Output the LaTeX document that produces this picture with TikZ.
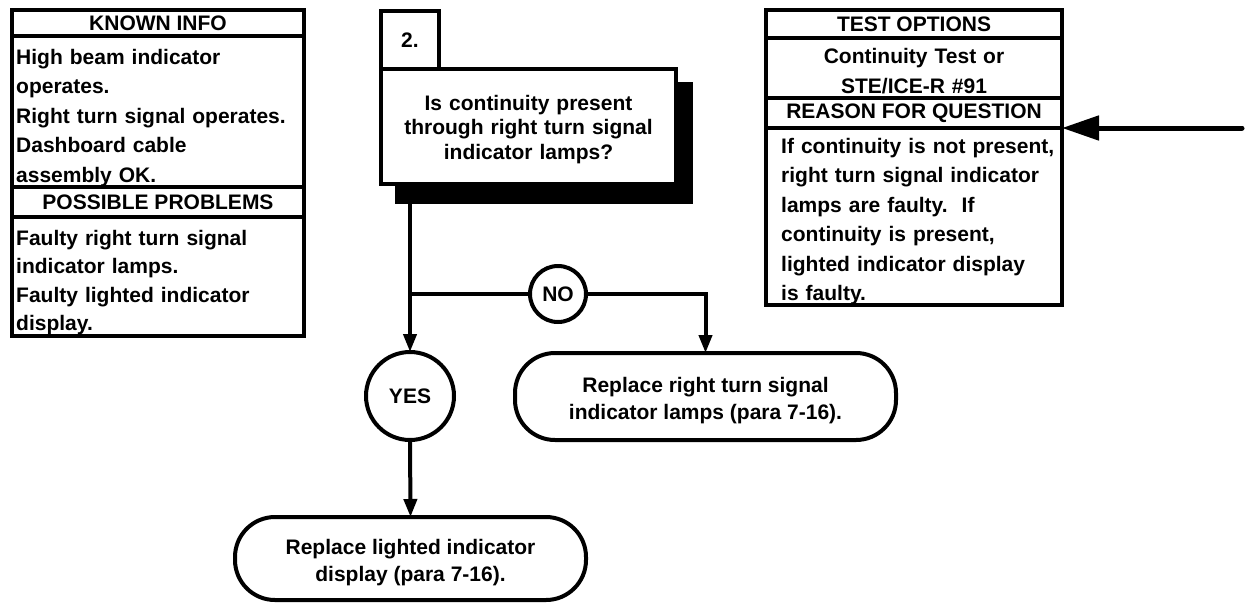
\documentclass[tikz,border=0pt]{standalone}
\usepackage{fontspec}
\setmainfont{Liberation Sans}
\usetikzlibrary{arrows.meta}
\begin{document}
\begin{tikzpicture}[x=1pt,y=-1pt,
  frame/.style={draw, line width=4pt, anchor=north west, inner sep=0pt, outer sep=0pt},
  hdr/.style={frame, font=\fontsize{21}{25}\selectfont\bfseries},
  txt/.style={inner sep=0pt, font=\fontsize{21}{29.5}\selectfont\bfseries},
  termbox/.style={draw, line width=4pt, rounded corners=40pt, inner sep=0pt, outer sep=0pt, align=center, font=\fontsize{21}{27}\selectfont\bfseries},
  decision/.style={circle, draw, line width=4pt, inner sep=0pt, outer sep=0pt, font=\fontsize{21}{25}\selectfont\bfseries},
  conn/.style={line width=4pt, -{Triangle[length=18pt,width=13pt]}},
  plainline/.style={line width=4pt}
]
\useasboundingbox (0,0) rectangle (1249,603);

% ---- left box ----
\node[hdr, minimum width=292pt, minimum height=26pt] (known) at (12,10) {KNOWN INFO};
\node[frame, minimum width=292pt, minimum height=151pt] (knownbody) at (12,36) {};
\node[hdr, minimum width=292pt, minimum height=30pt] (poss) at (12,187) {POSSIBLE PROBLEMS};
\node[frame, minimum width=292pt, minimum height=119pt] (possbody) at (12,217) {};
\node[txt, anchor=base west, text width=285pt, align=left] (knowntxt) at (16,64)
  {High beam indicator\\operates.\\Right turn signal operates.\\Dashboard cable\\assembly OK.};
\node[txt, font=\fontsize{21}{28.5}\selectfont\bfseries, anchor=base west, text width=285pt, align=left] (posstxt) at (16,245)
  {Faulty right turn signal\\indicator lamps.\\Faulty lighted indicator\\display.};

% ---- step box ----
\fill (395,82) rectangle (693,204);
\node[frame, fill=white, minimum width=58pt, minimum height=58pt, font=\fontsize{21}{25}\selectfont\bfseries] (num) at (381,11) {2.};
\node[frame, fill=white, minimum width=295pt, minimum height=115pt] (q) at (381,69) {};
\node[txt, font=\fontsize{21}{24.5}\selectfont\bfseries, anchor=base, text width=290pt, align=center] (qtxt) at (528.5,110)
  {Is continuity present\\through right turn signal\\indicator lamps?};

% ---- right box ----
\node[hdr, minimum width=296pt, minimum height=28pt] (testopt) at (766,10) {TEST OPTIONS};
\node[frame, minimum width=296pt, minimum height=60pt] (testbody) at (766,38) {};
\node[hdr, minimum width=296pt, minimum height=30pt] (reason) at (766,98) {REASON FOR QUESTION};
\node[frame, minimum width=296pt, minimum height=177pt] (reasonbody) at (766,128) {};
\node[txt, font=\fontsize{21}{30}\selectfont\bfseries, anchor=base, text width=290pt, align=center] (testtxt) at (914,63)
  {Continuity Test or\\STE/ICE-R \#91};
\node[txt, anchor=base west, text width=285pt, align=left] (reasontxt) at (781,153)
  {If continuity is not present,\\right turn signal indicator\\lamps are faulty.\ \ If\\continuity is present,\\lighted indicator display\\is faulty.};

% ---- decisions and terminals ----
\node[decision, minimum size=56pt] (no) at (558,294) {NO};
\node[decision, minimum size=88pt] (yes) at (410,396) {YES};
\node[termbox, minimum width=381pt, minimum height=87pt] (t1) at (705.5,396.5)
  {\rule{0pt}{23pt}Replace right turn signal\\indicator lamps (para 7-16).};
\node[termbox, minimum width=351pt, minimum height=83pt] (t2) at (410.5,558.5)
  {\rule{0pt}{23pt}Replace lighted indicator\\display (para 7-16).};

% ---- connectors ----
\draw[conn] (q.south -| yes.north) -- (yes.north);
\draw[plainline] (yes.north |- no.west) -- (no.west);
\draw[conn] (no.east) -| (t1.north);
\draw[conn] (yes.south) -- (t2.north);

\coordinate (src) at (1242,128);
\draw[line width=5pt, line cap=round, -{Triangle[length=37pt,width=24pt]}] (src) -- (src -| reasonbody.east);
\end{tikzpicture}
\end{document}
